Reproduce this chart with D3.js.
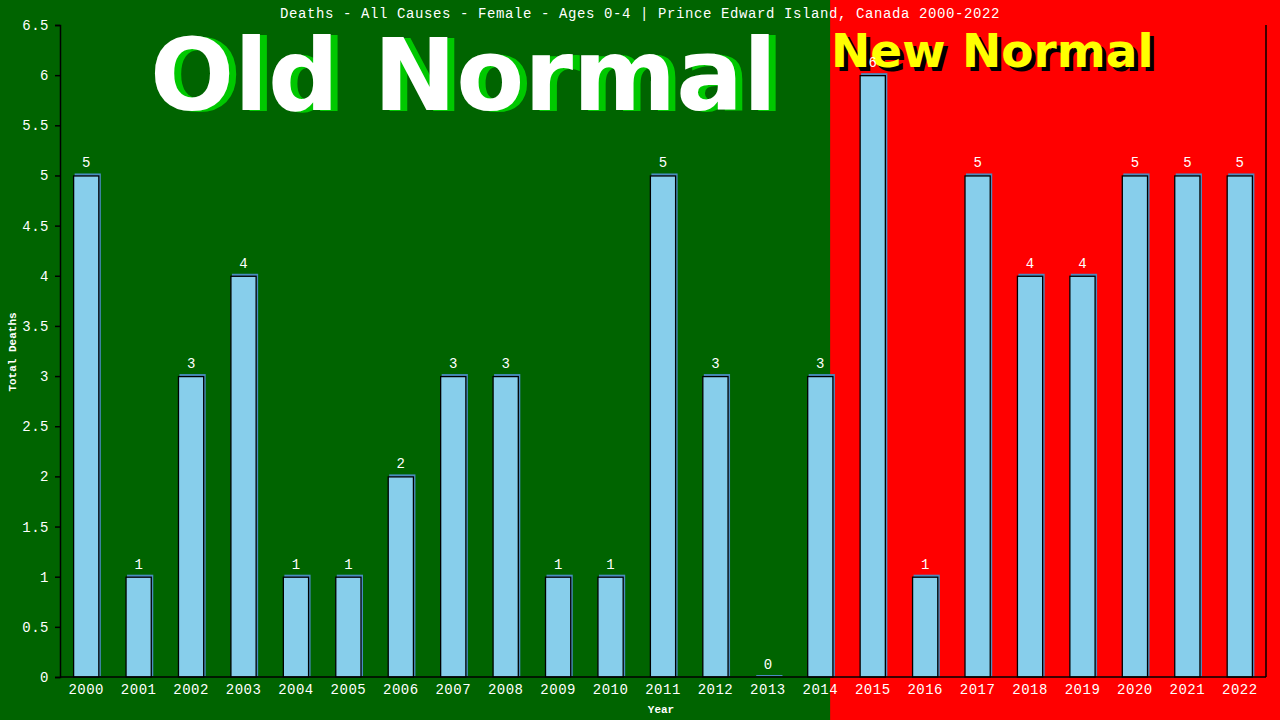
<!DOCTYPE html>
<html><head><meta charset="utf-8">
<script src="https://cdn.jsdelivr.net/npm/d3@7"></script>
<style>body{margin:0;background:#006400;}svg{display:block;}</style>
</head><body><svg id="c" width="1280" height="720"></svg>
<script>
const years = ["2000","2001","2002","2003","2004","2005","2006","2007","2008","2009","2010","2011","2012","2013","2014","2015","2016","2017","2018","2019","2020","2021","2022"];
const deaths = [5,1,3,4,1,1,2,3,3,1,1,5,3,0,3,6,1,5,4,4,5,5,5];
const yTicks = [0,0.5,1,1.5,2,2.5,3,3.5,4,4.5,5,5.5,6,6.5];
const title = "Deaths - All Causes - Female - Ages 0-4 | Prince Edward Island, Canada 2000-2022";

const W=1280,H=720,L=60,R=1266,T=25,B=677;
const svg=d3.select("#c");
const x=d3.scaleBand().domain(years).range([L,R]).paddingInner(0.5).paddingOuter(0.25);
const y=d3.scaleLinear().domain([0,6.5]).range([B,T]);
const mono="'Liberation Mono','DejaVu Sans Mono',monospace";

const split = x("2014")+x.bandwidth()*0.875;
svg.append("rect").attr("x",0).attr("y",0).attr("width",split).attr("height",H).attr("fill","#006400");
svg.append("rect").attr("x",split).attr("y",0).attr("width",W-split).attr("height",H).attr("fill","#ff0000");

// big labels
const big="'DejaVu Sans',Verdana,sans-serif";
svg.append("text").attr("x",157).attr("y",111).attr("font-family",big).attr("font-weight","bold").attr("font-size",99).attr("fill","#00c800").text("Old Normal");
svg.append("text").attr("x",150).attr("y",110).attr("font-family",big).attr("font-weight","bold").attr("font-size",99).attr("fill","#ffffff").text("Old Normal");
svg.append("text").attr("x",835).attr("y",71).attr("font-family",big).attr("font-weight","bold").attr("font-size",47).attr("fill","#000000").text("New Normal");
svg.append("text").attr("x",831).attr("y",67).attr("font-family",big).attr("font-weight","bold").attr("font-size",47).attr("fill","#ffff00").text("New Normal");

// title
svg.append("text").attr("x",640).attr("y",18).attr("text-anchor","middle").attr("font-family",mono).attr("font-size",14).attr("letter-spacing",0.6).attr("fill","#fff").text(title);

// bars
const g=svg.append("g");
g.selectAll("rect.sh").data(deaths).join("rect").attr("class","sh")
 .attr("x",(d,i)=>x(years[i])+1.5).attr("y",d=>y(d)-2).attr("width",x.bandwidth()).attr("height",d=>B-y(d)+1)
 .attr("fill","#4a8cc0");
g.selectAll("rect.bar").data(deaths).join("rect").attr("class","bar")
 .attr("x",(d,i)=>x(years[i])+0.5).attr("y",d=>y(d)+0.5).attr("width",x.bandwidth()-1).attr("height",d=>Math.max(0,B-y(d)-0.5))
 .attr("fill","#87ceeb").attr("stroke",d=>d>0?"#000":"none").attr("stroke-width",1.3);
g.selectAll("text.v").data(deaths).join("text").attr("class","v")
 .attr("x",(d,i)=>x(years[i])+x.bandwidth()/2).attr("y",d=>y(d)-8)
 .attr("text-anchor","middle").attr("font-family",mono).attr("font-size",14).attr("fill","#fff").text(d=>d);

// axes
const ya=svg.append("g").attr("transform",`translate(${L},0)`).call(d3.axisLeft(y).tickValues(yTicks).tickSize(5).tickFormat(d=>d));
const xa=svg.append("g").attr("transform",`translate(0,${B})`).call(d3.axisBottom(x).tickSize(0).tickPadding(7));
[ya,xa].forEach(a=>{a.select(".domain").attr("stroke","#000").attr("stroke-width",1.5);
 a.selectAll(".tick line").attr("stroke","#000").attr("stroke-width",1.5);
 a.selectAll("text").attr("fill","#fff").attr("font-family",mono).attr("font-size",14).attr("letter-spacing",0.5);});
ya.selectAll("text").attr("dx",-3);
xa.select(".domain").attr("d",`M${L},0H${R}`);
svg.append("line").attr("x1",R).attr("x2",R).attr("y1",T).attr("y2",B).attr("stroke","#000").attr("stroke-width",1.5);

svg.append("text").attr("x",661).attr("y",713).attr("text-anchor","middle").attr("font-family",mono).attr("font-weight","bold").attr("font-size",11).attr("fill","#fff").text("Year");
svg.append("text").attr("transform","translate(16,352) rotate(-90)").attr("text-anchor","middle").attr("font-family",mono).attr("font-weight","bold").attr("font-size",11).attr("fill","#fff").text("Total Deaths");
</script></body></html>
